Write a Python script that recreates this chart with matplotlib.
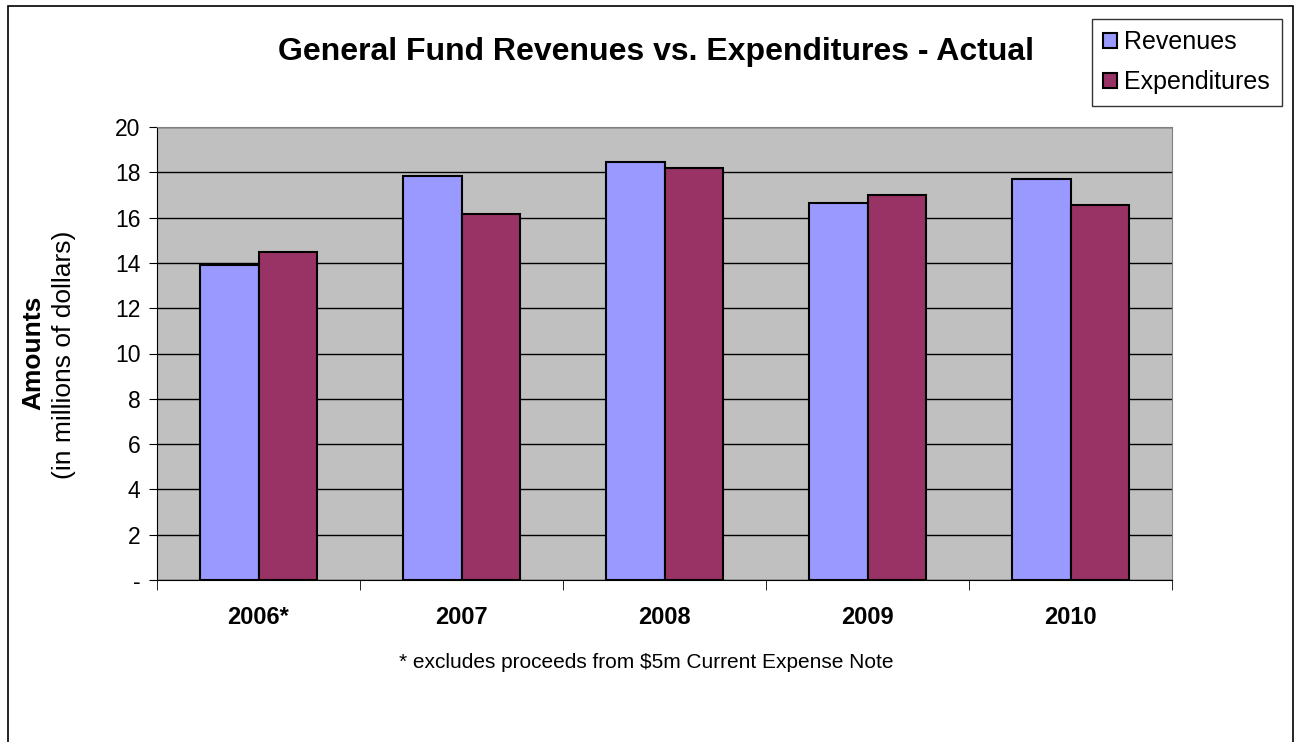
import matplotlib.pyplot as plt
from matplotlib.patches import Rectangle
import numpy as np

years = ['2006*', '2007', '2008', '2009', '2010']
revenues = [13.9, 17.85, 18.45, 16.65, 17.72]
expenditures = [14.5, 16.17, 18.2, 17.0, 16.56]
yticks = [0, 2, 4, 6, 8, 10, 12, 14, 16, 18, 20]
ytick_labels = ['-', '2', '4', '6', '8', '10', '12', '14', '16', '18', '20']

plt.rcParams['font.family'] = ['Liberation Sans', 'DejaVu Sans']

fig = plt.figure(figsize=(13, 7.42), dpi=100)
# outer chart border
fig.patches.append(Rectangle((8 / 1300, -0.01), 1285 / 1300, 1 - 6 / 742 + 0.01,
                             transform=fig.transFigure, fill=False,
                             edgecolor='black', linewidth=1.2))

ax = fig.add_axes([157 / 1300, 1 - 580 / 742, 1015 / 1300, 453 / 742])
ax.set_facecolor('#C0C0C0')
for s in ax.spines.values():
    s.set_color('#808080')
ax.spines['left'].set_color('black')
ax.spines['bottom'].set_color('black')

x = np.arange(len(years))
w = 0.286
ax.bar(x - w / 2, revenues, w, color='#9999FF', edgecolor='black', linewidth=1.5,
       label='Revenues', zorder=3)
ax.bar(x + w / 2, expenditures, w, color='#993366', edgecolor='black', linewidth=1.5,
       label='Expenditures', zorder=3)

ax.set_xlim(-0.5, len(years) - 0.5)
ax.set_ylim(0, 20)
ax.set_yticks(yticks)
ax.set_yticklabels(ytick_labels, fontsize=16.5)
ax.yaxis.grid(True, color='black', linewidth=1, zorder=1)
ax.set_axisbelow(True)

ax.set_xticks(x)
ax.set_xticklabels(years, fontsize=17, fontweight='bold')
ax.tick_params(axis='x', length=0, pad=19)
ax.set_xticks(np.arange(-0.5, len(years)), minor=True)
ax.tick_params(axis='x', which='minor', length=7, direction='out', color='black')
ax.tick_params(axis='y', length=6, direction='out', pad=6)

fig.text(656 / 1300, 1 - 52 / 742, 'General Fund Revenues vs. Expenditures - Actual',
         ha='center', va='center', fontsize=23, fontweight='bold')
fig.text(33 / 1300, 1 - 353 / 742, 'Amounts', rotation=90, ha='center', va='center',
         fontsize=19, fontweight='bold')
fig.text(64 / 1300, 1 - 355 / 742, '(in millions of dollars)', rotation=90, ha='center',
         va='center', fontsize=19)
fig.text(646 / 1300, 1 - 663 / 742, '* excludes proceeds from $5m Current Expense Note',
         ha='center', va='center', fontsize=15)

leg = fig.legend(loc='upper left', bbox_to_anchor=(1092 / 1300, 1 - 19 / 742),
                 fontsize=18, frameon=True, fancybox=False, edgecolor='black',
                 handlelength=0.55, handleheight=0.55, handletextpad=0.3,
                 borderpad=0.45, labelspacing=0.65, borderaxespad=0)
leg.get_frame().set_linewidth(1)

fig.savefig('out.png', dpi=100)
